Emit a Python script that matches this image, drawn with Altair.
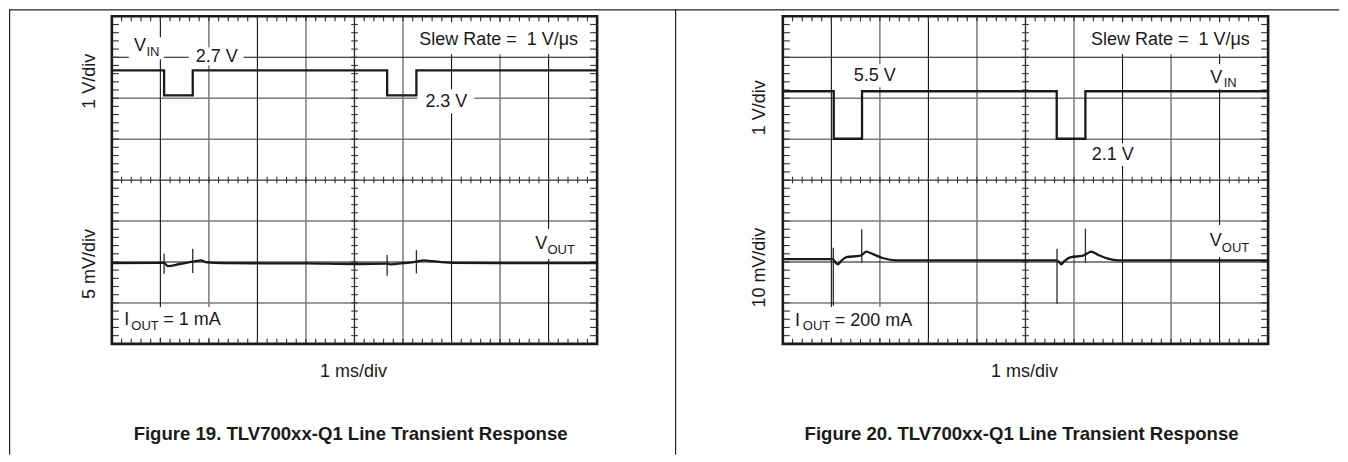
import altair as alt
import pandas as pd

# ---------------- oscilloscope graticule (in divisions) ----------------
X_DIVS = list(range(0, 11))      # 10 horizontal divisions (1 ms/div)
Y_DIVS = list(range(0, 9))       # 8 vertical divisions
X_LINES_DARK = [1, 3, 7, 9]
X_LINES_GRAY = [2, 4, 6, 8]
Y_LINES_DARK = [2, 7]
Y_LINES_GRAY = [1, 3, 5, 6]
X_AXIS_DIV = 5
Y_AXIS_DIV = 4
SUBDIV = 5

# ---------------- Figure 19 (IOUT = 1 mA) ----------------
F19_VIN_X = [0, 1.077, 1.077, 1.667, 1.667, 5.673, 5.673, 6.276, 6.276, 10]
F19_VIN_Y = [6.68, 6.68, 6.07, 6.07, 6.68, 6.68, 6.07, 6.07, 6.68, 6.68]
F19_VOUT_X = [0, 1.0, 1.077, 1.15, 1.4, 1.63, 1.73, 1.83, 1.95, 2.3, 4.0, 5.0,
              5.673, 5.75, 6.0, 6.25, 6.43, 6.6, 7.0, 8.0, 10]
F19_VOUT_Y = [1.97, 1.98, 1.98, 1.90, 1.95, 2.00, 2.02, 2.04, 1.99, 1.97, 1.965, 1.95,
              1.96, 1.94, 1.97, 2.00, 2.04, 2.02, 1.98, 1.97, 1.97]
F19_SPIKE_X = [1.077, 1.667, 5.673, 6.276]
F19_SPIKE_LO = [1.71, 1.73, 1.66, 1.72]
F19_SPIKE_HI = [2.20, 2.32, 2.17, 2.29]
F19_TEXT = ["V", "2.7 V", "2.3 V", "Slew Rate =\u00a0 1 V/\u03bcs", "I", "= 1 mA", "V"]
F19_TEXT_X = [0.459, 1.728, 6.461, 6.337, 0.257, 1.060, 8.724]
F19_TEXT_Y = [7.163, 6.878, 5.780, 7.310, 0.451, 0.451, 2.310]
F19_SUB = ["IN", "OUT", "OUT"]
F19_SUB_X = [0.714, 0.401, 8.977]
F19_SUB_Y = [7.041, 0.341, 2.202]
F19_BOX_X1 = [0.350, 1.584, 6.296, 6.214, 0.206, 8.621]
F19_BOX_X2 = [1.070, 2.716, 7.469, 9.835, 2.346, 9.650]
F19_BOX_Y1 = [6.951, 6.805, 5.634, 7.073, 0.146, 2.073]
F19_BOX_Y2 = [7.488, 7.244, 6.220, 7.854, 0.902, 2.805]
F19_YTITLES = ["1 V/div", "5 mV/div"]
F19_YTITLE_X = [-0.442, -0.442]
F19_YTITLE_Y = [6.415, 1.951]
F19_XTITLE = "1 ms/div"
F19_CAPTION = "Figure 19. TLV700xx-Q1 Line Transient Response"

# ---------------- Figure 20 (IOUT = 200 mA) ----------------
F20_VIN_X = [0, 1.049, 1.049, 1.632, 1.632, 5.644, 5.644, 6.235, 6.235, 10]
F20_VIN_Y = [6.17, 6.17, 5.01, 5.01, 6.17, 6.17, 5.01, 5.01, 6.17, 6.17]
F20_VOUT_X = [0, 1.03, 1.09, 1.13, 1.2, 1.31, 1.58, 1.64, 1.72, 1.86, 2.07, 2.34, 4.0,
              5.64, 5.70, 5.735, 5.80, 5.94, 6.17, 6.25, 6.35, 6.50, 6.70, 6.90, 8.0, 10]
F20_VOUT_Y = [2.07, 2.07, 1.98, 1.944, 2.02, 2.12, 2.146, 2.18, 2.25, 2.19, 2.09, 2.04, 2.04,
              2.04, 1.99, 1.944, 2.02, 2.12, 2.146, 2.19, 2.25, 2.17, 2.08, 2.04, 2.04, 2.04]
F20_SPIKE_X = [1.04, 1.626, 5.65, 6.235]
F20_SPIKE_LO = [0.93, 1.98, 0.98, 1.98]
F20_SPIKE_HI = [2.35, 2.80, 2.32, 2.81]
F20_TEXT = ["Slew Rate =\u00a0 1 V/\u03bcs", "V", "5.5 V", "2.1 V", "V", "I", "= 200 mA"]
F20_TEXT_X = [6.352, 8.807, 1.461, 6.368, 8.796, 0.251, 1.070]
F20_TEXT_Y = [7.310, 6.366, 6.415, 4.480, 2.390, 0.439, 0.439]
F20_SUB = ["IN", "OUT", "OUT"]
F20_SUB_X = [9.084, 9.047, 0.412]
F20_SUB_Y = [6.268, 2.251, 0.329]
F20_BOX_X1 = [6.214, 8.724, 1.337, 6.255, 8.683, 0.144]
F20_BOX_X2 = [9.856, 9.547, 2.387, 7.284, 9.712, 2.778]
F20_BOX_Y1 = [7.073, 6.220, 6.268, 4.341, 2.122, 0.146]
F20_BOX_Y2 = [7.854, 6.829, 6.829, 4.902, 2.902, 0.902]
F20_YTITLES = ["1 V/div", "10 mV/div"]
F20_YTITLE_X = [-0.473, -0.473]
F20_YTITLE_Y = [5.768, 1.861]
F20_XTITLE = "1 ms/div"
F20_CAPTION = "Figure 20. TLV700xx-Q1 Line Transient Response"

# ---------------- layout (pixels) ----------------
PX_X = 48.6      # pixels per horizontal division
PX_Y = 41.0      # pixels per vertical division
CELL_H = 446
TOP_GAP = 7
FONT = "Liberation Sans"
INK = "#1a1a1a"


def seg_layer(df, xs, ys, **mark):
    return alt.Chart(df).mark_rule(**mark).encode(
        x=alt.X("x1:Q", scale=xs, axis=None), x2="x2:Q",
        y=alt.Y("y1:Q", scale=ys, axis=None), y2="y2:Q")


def text_layer(df, xs, ys, **mark):
    return alt.Chart(df).mark_text(font=FONT, color=INK, **mark).encode(
        x=alt.X("x:Q", scale=xs, axis=None),
        y=alt.Y("y:Q", scale=ys, axis=None),
        text="t:N")


def panel(vin_x, vin_y, vout_x, vout_y, spk_x, spk_lo, spk_hi,
          txt, txt_x, txt_y, sub, sub_x, sub_y, bx1, bx2, by1, by2,
          ytitles, yt_x, yt_y, xtitle, caption, cell_w, left_px):
    xmin = -left_px / PX_X
    xmax = xmin + cell_w / PX_X
    ymax = Y_DIVS[-1] + TOP_GAP / PX_Y
    ymin = ymax - CELL_H / PX_Y
    xs = alt.Scale(domain=[xmin, xmax], nice=False, zero=False)
    ys = alt.Scale(domain=[ymin, ymax], nice=False, zero=False)
    x0, x1 = X_DIVS[0], X_DIVS[-1]
    y0, y1 = Y_DIVS[0], Y_DIVS[-1]

    def vlines(vals):
        return pd.DataFrame({"x1": vals, "x2": vals, "y1": [y0] * len(vals), "y2": [y1] * len(vals)})

    def hlines(vals):
        return pd.DataFrame({"x1": [x0] * len(vals), "x2": [x1] * len(vals), "y1": vals, "y2": vals})

    gray = pd.concat([vlines(X_LINES_GRAY), hlines(Y_LINES_GRAY)])
    dark = pd.concat([vlines(X_LINES_DARK), hlines(Y_LINES_DARK)])
    center = pd.concat([vlines([X_AXIS_DIV]), hlines([Y_AXIS_DIV])])

    mx = [d + k / SUBDIV for d in X_DIVS[:-1] for k in range(SUBDIV)][1:]
    my = [d + k / SUBDIV for d in Y_DIVS[:-1] for k in range(SUBDIV)][1:]
    tx, ty = 5 / PX_Y, 7 / PX_X
    cx, cy = 3.3 / PX_Y, 3.3 / PX_X
    ticks = pd.concat([
        pd.DataFrame({"x1": mx, "x2": mx, "y1": [y1] * len(mx), "y2": [y1 - tx] * len(mx)}),
        pd.DataFrame({"x1": mx, "x2": mx, "y1": [y0] * len(mx), "y2": [y0 + tx] * len(mx)}),
        pd.DataFrame({"x1": mx, "x2": mx, "y1": [Y_AXIS_DIV - cx] * len(mx), "y2": [Y_AXIS_DIV + cx] * len(mx)}),
        pd.DataFrame({"x1": [x0] * len(my), "x2": [x0 + ty] * len(my), "y1": my, "y2": my}),
        pd.DataFrame({"x1": [x1 - ty] * len(my), "x2": [x1] * len(my), "y1": my, "y2": my}),
        pd.DataFrame({"x1": [X_AXIS_DIV - cy] * len(my), "x2": [X_AXIS_DIV + cy] * len(my), "y1": my, "y2": my}),
    ])
    frame = pd.DataFrame({"x1": [x0], "x2": [x1], "y1": [y0], "y2": [y1]})
    boxes = pd.DataFrame({"x1": bx1, "x2": bx2, "y1": by1, "y2": by2})
    vin = pd.DataFrame({"x": vin_x, "y": vin_y, "i": range(len(vin_x))})
    vout = pd.DataFrame({"x": vout_x, "y": vout_y, "i": range(len(vout_x))})
    spikes = pd.DataFrame({"x1": spk_x, "x2": spk_x, "y1": spk_lo, "y2": spk_hi})
    border = pd.DataFrame({
        "x1": [xmin + 0.6 / PX_X, xmin], "x2": [xmin + 0.6 / PX_X, xmax],
        "y1": [ymin, ymax - 0.6 / PX_Y], "y2": [ymax, ymax - 0.6 / PX_Y]})

    labels = pd.DataFrame({"t": txt, "x": txt_x, "y": txt_y})
    subs = pd.DataFrame({"t": sub, "x": sub_x, "y": sub_y})
    ytl = pd.DataFrame({"t": ytitles, "x": yt_x, "y": yt_y})
    xtl = pd.DataFrame({"t": [xtitle], "x": [(x0 + x1) / 2 - 0.02], "y": [y0 - 0.798]})
    cap = pd.DataFrame({"t": [caption], "x": [(x0 + x1) / 2 - 0.08], "y": [y0 - 2.34]})

    rect_enc = dict(x=alt.X("x1:Q", scale=xs, axis=None), x2="x2:Q",
                    y=alt.Y("y1:Q", scale=ys, axis=None), y2="y2:Q")

    layers = [
        seg_layer(gray, xs, ys, color="#7a7a7a", strokeWidth=1.5),
        seg_layer(dark, xs, ys, color="#111111", strokeWidth=1.1),
        seg_layer(center, xs, ys, color="#333333", strokeWidth=1.4),
        alt.Chart(boxes).mark_rect(fill="white", stroke=None).encode(**rect_enc),
        seg_layer(ticks, xs, ys, color="#333333", strokeWidth=1.1),
        alt.Chart(frame).mark_rect(fill=None, stroke="#1a1a1a", strokeWidth=2.6).encode(**rect_enc),
        alt.Chart(vin).mark_line(color=INK, strokeWidth=2.3, interpolate="linear").encode(
            x=alt.X("x:Q", scale=xs, axis=None), y=alt.Y("y:Q", scale=ys, axis=None), order="i:Q"),
        alt.Chart(vout).mark_line(color=INK, strokeWidth=2.3, interpolate="monotone").encode(
            x=alt.X("x:Q", scale=xs, axis=None), y=alt.Y("y:Q", scale=ys, axis=None), order="i:Q"),
        seg_layer(spikes, xs, ys, color="#2a2a2a", strokeWidth=1.3),
        text_layer(labels, xs, ys, fontSize=18, align="left", baseline="alphabetic"),
        text_layer(subs, xs, ys, fontSize=13, align="left", baseline="alphabetic"),
        text_layer(ytl, xs, ys, fontSize=18, align="center", baseline="middle", angle=270),
        text_layer(xtl, xs, ys, fontSize=18, align="center", baseline="alphabetic"),
        text_layer(cap, xs, ys, fontSize=18.6, fontWeight="bold", align="center", baseline="alphabetic"),
        seg_layer(border, xs, ys, color="#222222", strokeWidth=1.2),
    ]
    return alt.layer(*layers).properties(width=cell_w, height=CELL_H)


left = panel(F19_VIN_X, F19_VIN_Y, F19_VOUT_X, F19_VOUT_Y, F19_SPIKE_X, F19_SPIKE_LO, F19_SPIKE_HI,
             F19_TEXT, F19_TEXT_X, F19_TEXT_Y, F19_SUB, F19_SUB_X, F19_SUB_Y,
             F19_BOX_X1, F19_BOX_X2, F19_BOX_Y1, F19_BOX_Y2,
             F19_YTITLES, F19_YTITLE_X, F19_YTITLE_Y, F19_XTITLE, F19_CAPTION,
             cell_w=667, left_px=103)
right = panel(F20_VIN_X, F20_VIN_Y, F20_VOUT_X, F20_VOUT_Y, F20_SPIKE_X, F20_SPIKE_LO, F20_SPIKE_HI,
              F20_TEXT, F20_TEXT_X, F20_TEXT_Y, F20_SUB, F20_SUB_X, F20_SUB_Y,
              F20_BOX_X1, F20_BOX_X2, F20_BOX_Y1, F20_BOX_Y2,
              F20_YTITLES, F20_YTITLE_X, F20_YTITLE_Y, F20_XTITLE, F20_CAPTION,
              cell_w=665, left_px=108)

chart = alt.hconcat(left, right, spacing=0, bounds="flush").properties(
    padding=0, background="white"
).configure_view(stroke=None)

chart.save("out.html", embed_options={"renderer": "svg", "actions": False})
